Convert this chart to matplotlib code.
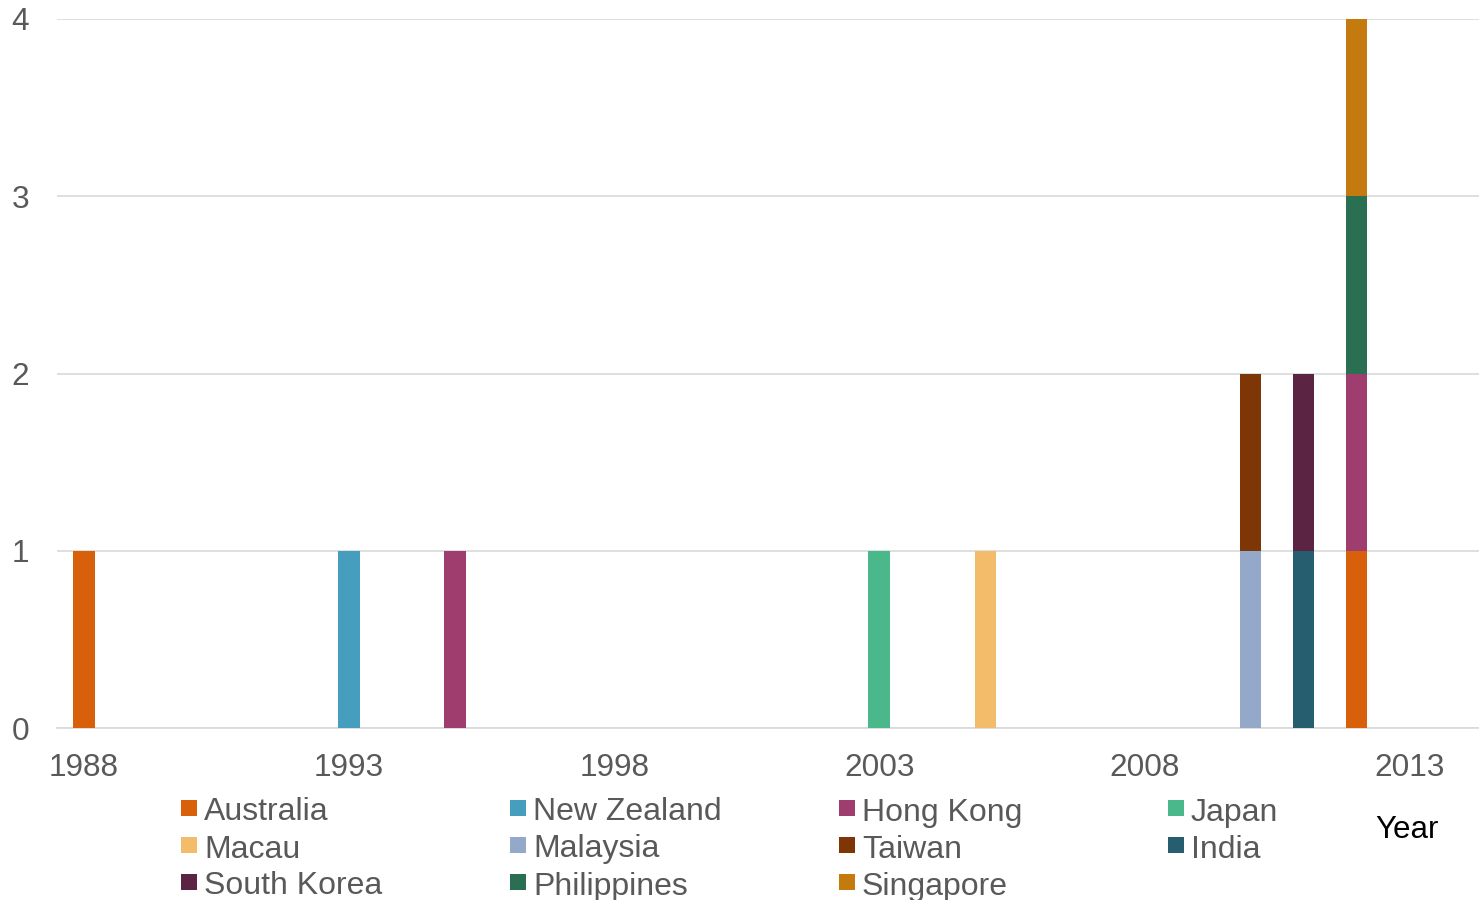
import numpy as np
import matplotlib
matplotlib.use("Agg")
import matplotlib.pyplot as plt
from matplotlib.patches import Rectangle

plt.rcParams["font.family"] = ["Liberation Sans", "DejaVu Sans"]

# ---------------------------------------------------------------------------
# Data
# ---------------------------------------------------------------------------
years = np.arange(1988, 2015)

countries = ["Australia", "New Zealand", "Hong Kong", "Japan",
             "Macau", "Malaysia", "Taiwan", "India",
             "South Korea", "Philippines", "Singapore"]

colors = ["#D9600B", "#459EBD", "#A03D6F", "#4AB88A",
          "#F3BC6B", "#94A9C9", "#7F3606", "#265E6F",
          "#5C2443", "#2A6F52", "#C57A0F"]

# year -> count, one dict per country
australia = {1988: 1, 2012: 1}
new_zealand = {1993: 1}
hong_kong = {1995: 1, 2012: 1}
japan = {2003: 1}
macau = {2005: 1}
malaysia = {2010: 1}
taiwan = {2010: 1}
india = {2011: 1}
south_korea = {2011: 1}
philippines = {2012: 1}
singapore = {2012: 1}

series = [australia, new_zealand, hong_kong, japan, macau, malaysia,
          taiwan, india, south_korea, philippines, singapore]

x_ticks = [1988, 1993, 1998, 2003, 2008, 2013]
y_ticks = [0, 1, 2, 3, 4]

# ---------------------------------------------------------------------------
# Plot
# ---------------------------------------------------------------------------
W, H = 1479, 900
fig = plt.figure(figsize=(W / 100, H / 100), dpi=100)
ax = fig.add_axes([57 / W, (H - 728) / H, 1 - 57 / W, (728 - 19) / H])

bottom = np.zeros(len(years))
for name, col, s in zip(countries, colors, series):
    vals = np.array([s.get(y, 0) for y in years], dtype=float)
    ax.bar(years, vals, width=0.41, bottom=bottom, color=col, label=name, zorder=3)
    bottom += vals

ax.set_xlim(1987.49, 2014.31)
ax.set_ylim(0, 4)
ax.set_xticks(x_ticks)
ax.set_yticks(y_ticks)
ax.yaxis.grid(True, color="#D9D9D9", linewidth=1.2, zorder=0)
ax.set_axisbelow(True)
for side in ("top", "right", "left"):
    ax.spines[side].set_visible(False)
ax.spines["bottom"].set_color("#D9D9D9")
ax.spines["bottom"].set_linewidth(1.2)
ax.tick_params(axis="both", length=0, labelsize=22.7, labelcolor="#595959")
ax.tick_params(axis="x", pad=18)
ax.tick_params(axis="y", pad=20)

# legend: 4 equal columns laid out row by row
col_x = [181, 510, 839, 1168]
row_y = [809, 846, 883]
sq = 16
for i, (name, col) in enumerate(zip(countries, colors)):
    cx = col_x[i % 4]
    cy = row_y[i // 4]
    fig.add_artist(Rectangle((cx / W, (H - cy + 1 - sq / 2) / H), sq / W, sq / H,
                             transform=fig.transFigure, facecolor=col,
                             edgecolor="none"))
    fig.text((cx + sq + 7) / W, (H - cy) / H, name, fontsize=23,
             color="#595959", ha="left", va="center_baseline")

fig.text(1375 / W, (H - 827) / H, "Year", fontsize=22.5, color="black",
         ha="left", va="center_baseline")

fig.savefig("out.png", dpi=100)
